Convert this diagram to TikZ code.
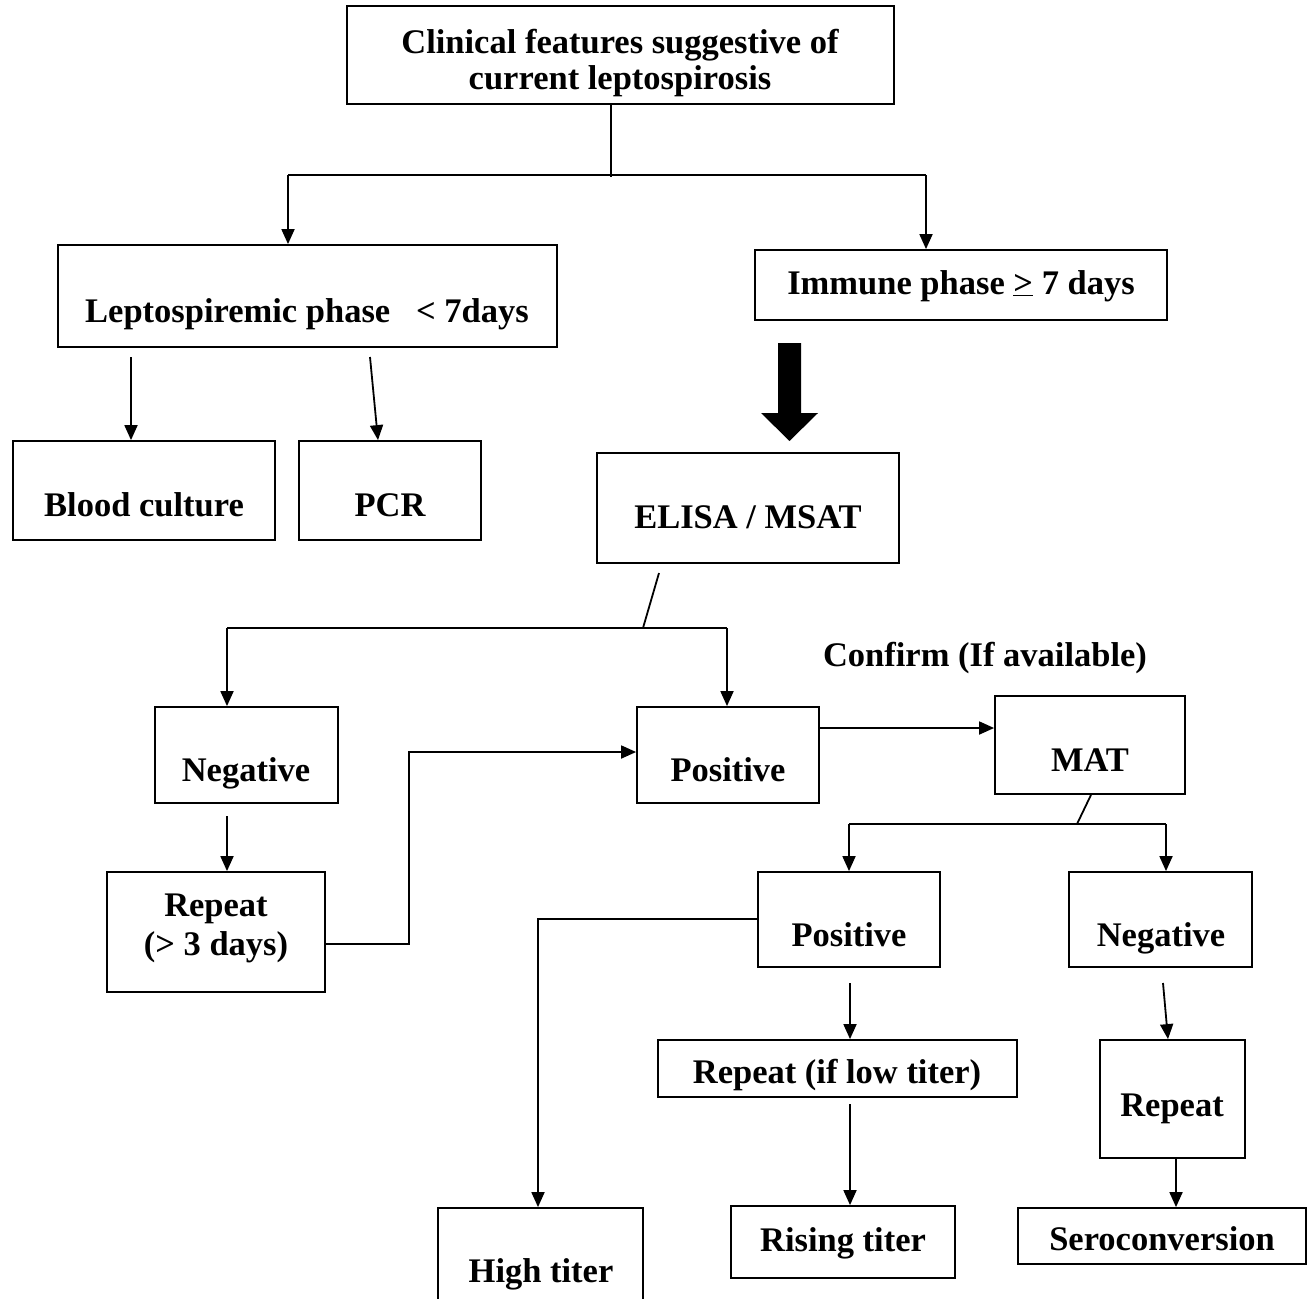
\documentclass[tikz,border=0pt]{standalone}
\usepackage{fontspec}
\setmainfont{Liberation Serif}
\usetikzlibrary{arrows.meta,fit}
\begin{document}
\begin{tikzpicture}[x=1pt,y=-1pt,
  bx/.style={draw, line width=1.8pt, inner sep=0pt},
  txt/.style={font=\fontsize{34.5}{39}\selectfont\bfseries, inner sep=0pt, anchor=base},
  ln/.style={line width=1.8pt},
  arr/.style={line width=1.8pt, -{Triangle[length=15pt,width=13pt]}}]
\useasboundingbox (0,0) rectangle (1308,1298);
\clip (0,0) rectangle (1308,1298);

% boxes
\node[bx, fit={(347,6) (894,104)}] (top) {};
\node[bx, fit={(58,245) (557,347)}] (lep) {};
\node[bx, fit={(755,250) (1167,320)}] (imm) {};
\node[bx, fit={(13,441) (275,540)}] (blood) {};
\node[bx, fit={(299,441) (481,540)}] (pcr) {};
\node[bx, fit={(597,453) (899,563)}] (elisa) {};
\node[bx, fit={(155,707) (338,803)}] (neg1) {};
\node[bx, fit={(637,707) (819,803)}] (pos1) {};
\node[bx, fit={(995,696) (1185,794)}] (mat) {};
\node[bx, fit={(107,872) (325,992)}] (rep1) {};
\node[bx, fit={(758,872) (940,967)}] (pos2) {};
\node[bx, fit={(1069,872) (1252,967)}] (neg2) {};
\node[bx, fit={(658,1040) (1017,1097)}] (low) {};
\node[bx, fit={(1100,1040) (1245,1158)}] (rep2) {};
\node[bx, fit={(438,1208) (643,1330)}] (high) {};
\node[bx, fit={(731,1206) (955,1278)}] (rise) {};
\node[bx, fit={(1018,1208) (1306,1264)}] (sero) {};

% texts
\node[txt] (t1) at (620,54) {Clinical features suggestive of};
\node[txt] (t2) at (620,89) {current leptospirosis};
\node[txt] (t3) at (307,322) {Leptospiremic phase \ \ {<} 7days};
\node[txt] (t4) at (961,294) {Immune phase \underline{>} 7 days};
\node[txt] (t5) at (144,516) {Blood culture};
\node[txt] (t6) at (390,516) {PCR};
\node[txt] (t7) at (748,528) {ELISA / MSAT};
\node[txt] (t8) at (985,666) {Confirm (If available)};
\node[txt] (t9) at (246,781) {Negative};
\node[txt] (t10) at (728,781) {Positive};
\node[txt] (t11) at (1090,771) {MAT};
\node[txt] (t12) at (216,916) {Repeat};
\node[txt] (t13) at (216,955) {({>} 3 days)};
\node[txt] (t14) at (849,946) {Positive};
\node[txt] (t15) at (1161,946) {Negative};
\node[txt] (t16) at (837,1083) {Repeat (if low titer)};
\node[txt] (t17) at (1172,1116) {Repeat};
\node[txt] (t18) at (541,1282) {High titer};
\node[txt] (t19) at (843,1251) {Rising titer};
\node[txt] (t20) at (1162,1250) {Seroconversion};

% connectors
\coordinate (s1) at (611,177);
\coordinate (bl) at (288,175);
\coordinate (br) at (926,175);
\draw[ln] (top.south -| s1) -- (s1);
\draw[ln] (bl) -- (br);
\draw[arr] (bl) -- (bl |- lep.north);
\draw[arr] (br) -- (br |- imm.north);

\coordinate (a1) at (131,357);
\coordinate (a2) at (370,357);
\draw[arr] (a1) -- (a1 |- blood.north);
\draw[arr] (a2) -- ([xshift=-12pt]pcr.north);

% thick arrow
\fill (778,343) -- (801,343) -- (801,413) -- (818,413) -- (789.5,441) -- (761,413) -- (778,413) -- cycle;

\coordinate (e1) at (659,573);
\coordinate (e2) at (643,628);
\coordinate (el) at (227,628);
\coordinate (er) at (727,628);
\draw[ln] (e1) -- (e2);
\draw[ln] (el) -- (er);
\draw[arr] (el) -- (el |- neg1.north);
\draw[arr] (er) -- (er |- pos1.north);

\coordinate (n0) at (227,816);
\draw[arr] (n0) -- (n0 |- rep1.north);

\coordinate (r1) at (409,944);
\coordinate (r2) at (409,752);
\draw[arr] (rep1.east |- r1) -- (r1) -- (r2) -- (pos1.west |- r2);

\coordinate (m1) at (819,728);
\draw[arr] (pos1.east |- m1) -- (mat.west |- m1);

\coordinate (m2) at (1077,824);
\coordinate (ml) at (849,824);
\coordinate (mr) at (1166,824);
\draw[ln] ([xshift=1pt]mat.south) -- (m2);
\draw[ln] (ml) -- (mr);
\draw[arr] (ml) -- (ml |- pos2.north);
\draw[arr] (mr) -- (mr |- neg2.north);

\coordinate (h1) at (538,919);
\draw[arr] (pos2.west |- h1) -- (h1) -- (h1 |- high.north);

\coordinate (l1) at (850,983);
\coordinate (l2) at (850,1104);
\draw[arr] (l1) -- (l1 |- low.north);
\draw[arr] (l2) -- (l2 |- rise.north);

\coordinate (q1) at (1163,983);
\coordinate (q2) at (1176,1180);
\draw[arr] (q1) -- ([xshift=-4.5pt]rep2.north);
\draw[arr] (rep2.south -| q2) -- (sero.north -| q2);
\end{tikzpicture}
\end{document}
